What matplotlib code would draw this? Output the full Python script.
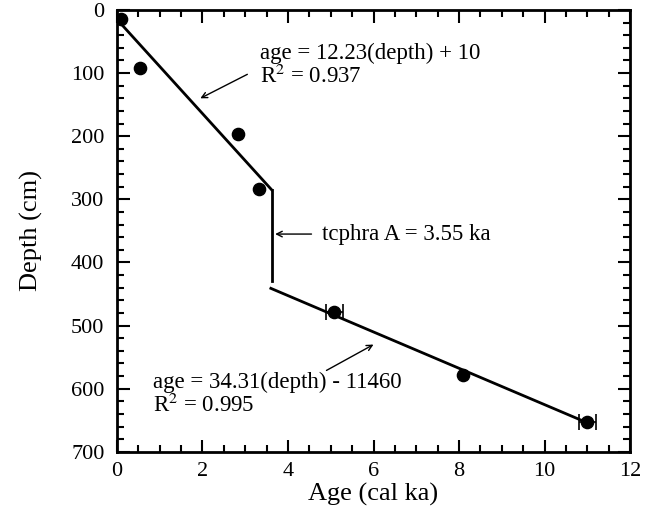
import numpy as np
import matplotlib.pyplot as plt
from matplotlib.ticker import MultipleLocator

plt.rcParams['font.family'] = ['Liberation Serif', 'DejaVu Serif']
plt.rcParams['mathtext.fontset'] = 'stix'

# dated samples
age = [0.1, 0.55, 2.82, 3.32, 5.08, 8.1, 11.0]
depth = [15, 92, 196, 284, 479, 579, 653]
# samples with age uncertainty shown
err_age = [5.08, 11.0]
err_depth = [479, 653]
err_x = [0.2, 0.2]

# fitted segments
upper_age = [0.07, 3.62]
upper_depth = [20, 285]
tephra_age = [3.62, 3.62]
tephra_depth = [285, 430]
lower_age = [3.6, 11.0]
lower_depth = [441, 654]

fig = plt.figure(figsize=(6.53, 5.23), dpi=100)
ax = fig.add_axes([0.179, 0.136, 0.786, 0.845])

ax.plot(upper_age, upper_depth, color='black', lw=2)
ax.plot(tephra_age, tephra_depth, color='black', lw=2)
ax.plot(lower_age, lower_depth, color='black', lw=2)

ax.errorbar(err_age, err_depth, xerr=err_x, fmt='none', ecolor='black',
            elinewidth=1.2, capsize=6, capthick=1.2)
ax.plot(age, depth, 'o', color='black', ms=8.8)

ax.set_xlim(0, 12)
ax.set_ylim(700, 0)
ax.xaxis.set_major_locator(MultipleLocator(2))
ax.xaxis.set_minor_locator(MultipleLocator(0.5))
ax.yaxis.set_major_locator(MultipleLocator(100))
ax.yaxis.set_minor_locator(MultipleLocator(20))
ax.tick_params(which='both', direction='in', top=True, right=True, width=1.5, labelsize=16)
ax.tick_params(which='major', length=9)
ax.tick_params(which='minor', length=5)
ax.tick_params(axis='y', which='major', pad=9)
ax.tick_params(axis='x', which='major', pad=7)
for s in ax.spines.values():
    s.set_linewidth(2)

ax.set_xlabel('Age (cal ka)', fontsize=19, labelpad=2)
ax.set_ylabel('Depth (cm)', fontsize=19, labelpad=20)

arrow = dict(arrowstyle='->', color='black', lw=1, shrinkA=0, shrinkB=0)
ax.annotate('', xy=(1.95, 140), xytext=(3.05, 102), arrowprops=arrow)
ax.text(3.35, 88, 'age = 12.23(depth) + 10\nR$^2$ = 0.937', fontsize=16.5,
        va='center', ha='left', linespacing=1.05)

ax.annotate('', xy=(3.7, 355), xytext=(4.55, 355), arrowprops=arrow)
ax.text(4.8, 355, 'tcphra A = 3.55 ka', fontsize=16.5, va='center', ha='left')

ax.annotate('', xy=(6.0, 530), xytext=(4.9, 571), arrowprops=arrow)
ax.text(0.85, 609, 'age = 34.31(depth) - 11460\nR$^2$ = 0.995', fontsize=16.5,
        va='center', ha='left', linespacing=1.05)

fig.savefig('out.png', dpi=100)
